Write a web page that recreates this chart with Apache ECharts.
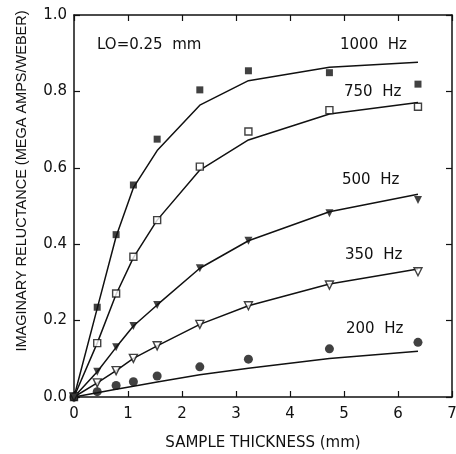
<!DOCTYPE html>
<html lang="en">
<head>
  <meta charset="UTF-8">
  <title>Imaginary reluctance</title>
  <style>
    html,body { width:100%; height:100%; margin:0; background:#fff; }
  </style>
</head>
<body>
  <div id="chart" style="width:456px;height:454px"></div>
  <script src="https://cdn.jsdelivr.net/npm/echarts@6/dist/echarts.min.js"></script>
  <script>
    var chart = echarts.init(document.getElementById('chart'));

    // sample thickness (mm)
    var thickness = [0, 0.43, 0.78, 1.1, 1.54, 2.33, 3.23, 4.73, 6.37];

    // measured points
    var meas1000 = [0, 0.235, 0.425, 0.555, 0.675, 0.804, 0.854, 0.849, 0.819];
    var meas750  = [0, 0.141, 0.271, 0.367, 0.463, 0.603, 0.695, 0.751, 0.760];
    var meas500  = [0, 0.066, 0.130, 0.186, 0.241, 0.337, 0.409, 0.481, 0.516];
    var meas350  = [0, 0.037, 0.069, 0.101, 0.134, 0.190, 0.239, 0.293, 0.328];
    var meas200  = [0, 0.014, 0.030, 0.040, 0.055, 0.079, 0.099, 0.126, 0.143];

    // model curves
    var fit1000 = [0, 0.232, 0.420, 0.548, 0.645, 0.764, 0.828, 0.863, 0.876];
    var fit750  = [0, 0.141, 0.269, 0.365, 0.463, 0.594, 0.673, 0.741, 0.771];
    var fit500  = [0, 0.066, 0.130, 0.186, 0.241, 0.337, 0.409, 0.485, 0.531];
    var fit350  = [0, 0.037, 0.069, 0.101, 0.134, 0.190, 0.239, 0.296, 0.335];
    var fit200  = [0, 0.011, 0.020, 0.028, 0.039, 0.058, 0.075, 0.101, 0.120];

    var labels = ['1000 Hz', '750 Hz', '500 Hz', '350 Hz', '200 Hz'];

    function pairs(ys) {
      return thickness.map(function (x, i) { return [x, ys[i]]; });
    }

    var font = 'DejaVu Sans';
    var ink = '#111';

    function fitLine(name, ys) {
      return {
        name: name + ' fit', type: 'line', data: pairs(ys),
        showSymbol: false, silent: true,
        lineStyle: { color: ink, width: 1.5 }
      };
    }
    function points(name, ys, symbol, size, filled, rot) {
      return {
        name: name, type: 'scatter', data: pairs(ys),
        symbol: symbol, symbolSize: size, symbolRotate: rot || 0,
        itemStyle: filled
          ? { color: ink, borderWidth: 0 }
          : { color: '#fff', borderColor: ink, borderWidth: 1.4 },
        z: 3
      };
    }
    function note(text, x, y) {
      return { type: 'text', left: x, top: y, style: { text: text, fill: ink, font: '15px "' + font + '"' } };
    }

    var axisText = { color: ink, fontFamily: font, fontSize: 15 };
    var line = { show: true, onZero: false, lineStyle: { color: ink, width: 1.5 } };
    var tick = { show: true, inside: true, length: 6, lineStyle: { color: ink, width: 1.2 } };

    var option = {
      animation: false,
      grid: { left: 74, right: 4, top: 15, bottom: 57, outerBoundsMode: 'none' },
      xAxis: [{
        type: 'value', min: 0, max: 7, interval: 1,
        name: 'SAMPLE THICKNESS (mm)', nameLocation: 'middle', nameGap: 39,
        nameTextStyle: { color: ink, fontFamily: font, fontSize: 15 },
        axisLine: line, axisTick: tick,
        axisLabel: Object.assign({ margin: 10 }, axisText),
        splitLine: { show: false }
      }, {
        type: 'value', min: 0, max: 7, interval: 1, position: 'top',
        axisLine: line, axisTick: tick,
        axisLabel: { show: false }, splitLine: { show: false }
      }],
      yAxis: [{
        type: 'value', min: 0, max: 1, interval: 0.2,
        name: 'IMAGINARY RELUCTANCE (MEGA AMPS/WEBER)', nameLocation: 'middle', nameGap: 45,
        nameTextStyle: { color: ink, fontFamily: 'Liberation Sans', fontSize: 14.5, padding: [0, 0, 0, 50] },
        axisLine: line, axisTick: tick,
        axisLabel: Object.assign({ margin: 7, formatter: function (v) { return v.toFixed(1); } }, axisText),
        splitLine: { show: false }
      }, {
        type: 'value', min: 0, max: 1, interval: 0.2, position: 'right',
        axisLine: line, axisTick: tick,
        axisLabel: { show: false }, splitLine: { show: false }
      }],
      graphic: [
        note('LO=0.25  mm', 97, 38),
        note(labels[0].replace(' ', '  '), 340, 38),
        note(labels[1].replace(' ', '  '), 344, 85),
        note(labels[2].replace(' ', '  '), 342, 173),
        note(labels[3].replace(' ', '  '), 345, 248),
        note(labels[4].replace(' ', '  '), 346, 322)
      ],
      series: [
        fitLine(labels[0], fit1000),
        fitLine(labels[1], fit750),
        fitLine(labels[2], fit500),
        fitLine(labels[3], fit350),
        fitLine(labels[4], fit200),
        points(labels[0], meas1000, 'rect', 7, true),
        points(labels[1], meas750, 'rect', 7, false),
        points(labels[2], meas500, 'triangle', 8, true, 180),
        points(labels[3], meas350, 'triangle', 8, false, 180),
        points(labels[4], meas200, 'circle', 9, true)
      ]
    };

    chart.setOption(option);
  </script>
</body>
</html>
